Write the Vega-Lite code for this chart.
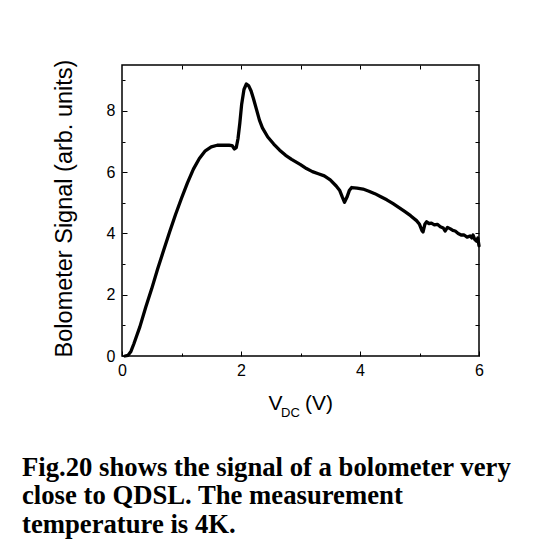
{
 "$schema": "https://vega.github.io/schema/vega-lite/v6.json",
 "width": 357,
 "height": 291,
 "autosize": {"type": "none"},
 "padding": {"left": 122, "top": 65, "right": 81, "bottom": 187},
 "background": "white",
 "config": {
  "view": {"stroke": "black", "strokeWidth": 1.5},
  "axis": {"domain": false, "grid": false, "tickColor": "black", "tickWidth": 1, "labelColor": "black", "titleColor": "black", "labelFont": "Liberation Sans", "titleFont": "Liberation Sans", "labelFontSize": 16, "titleFontWeight": "normal"}
 },
 "title": {
  "text": ["Fig.20 shows the signal of a bolometer very", "close to QDSL. The measurement", "temperature is 4K."],
  "orient": "bottom", "anchor": "start", "frame": "group", "dx": -100, "offset": 35,
  "font": "Liberation Serif", "fontSize": 26.7, "fontWeight": "bold", "color": "black", "lineHeight": 28.5
 },
 "data": {"values": [
  {"v":0.05,"s":0.0},{"v":0.1,"s":0.02},{"v":0.15,"s":0.15},{"v":0.2,"s":0.4},{"v":0.25,"s":0.68},{"v":0.3,"s":0.95},{"v":0.4,"s":1.6},{"v":0.5,"s":2.2},{"v":0.6,"s":2.85},{"v":0.7,"s":3.45},{"v":0.8,"s":4.05},{"v":0.9,"s":4.62},{"v":1.0,"s":5.15},{"v":1.1,"s":5.65},{"v":1.2,"s":6.1},{"v":1.3,"s":6.45},{"v":1.4,"s":6.7},{"v":1.5,"s":6.83},{"v":1.6,"s":6.88},{"v":1.7,"s":6.88},{"v":1.8,"s":6.88},{"v":1.85,"s":6.87},{"v":1.89,"s":6.76},{"v":1.92,"s":6.8},{"v":1.95,"s":7.1},{"v":1.98,"s":7.6},{"v":2.01,"s":8.2},{"v":2.05,"s":8.7},{"v":2.09,"s":8.88},{"v":2.13,"s":8.82},{"v":2.17,"s":8.65},{"v":2.21,"s":8.4},{"v":2.26,"s":8.05},{"v":2.31,"s":7.7},{"v":2.36,"s":7.45},{"v":2.45,"s":7.15},{"v":2.55,"s":6.92},{"v":2.65,"s":6.72},{"v":2.75,"s":6.55},{"v":2.85,"s":6.42},{"v":3.0,"s":6.25},{"v":3.1,"s":6.12},{"v":3.2,"s":6.02},{"v":3.3,"s":5.95},{"v":3.4,"s":5.88},{"v":3.5,"s":5.75},{"v":3.6,"s":5.55},{"v":3.66,"s":5.4},{"v":3.7,"s":5.2},{"v":3.74,"s":5.02},{"v":3.78,"s":5.18},{"v":3.82,"s":5.4},{"v":3.86,"s":5.5},{"v":3.95,"s":5.48},{"v":4.05,"s":5.45},{"v":4.15,"s":5.38},{"v":4.25,"s":5.3},{"v":4.35,"s":5.2},{"v":4.45,"s":5.1},{"v":4.55,"s":4.98},{"v":4.65,"s":4.85},{"v":4.75,"s":4.72},{"v":4.85,"s":4.58},{"v":4.95,"s":4.42},{"v":5.0,"s":4.3},{"v":5.04,"s":4.1},{"v":5.06,"s":4.05},{"v":5.09,"s":4.3},{"v":5.12,"s":4.38},{"v":5.16,"s":4.32},{"v":5.2,"s":4.34},{"v":5.25,"s":4.28},{"v":5.3,"s":4.3},{"v":5.35,"s":4.22},{"v":5.4,"s":4.18},{"v":5.43,"s":4.08},{"v":5.47,"s":4.2},{"v":5.52,"s":4.15},{"v":5.56,"s":4.1},{"v":5.6,"s":4.08},{"v":5.65,"s":4.0},{"v":5.7,"s":3.95},{"v":5.75,"s":3.95},{"v":5.8,"s":3.88},{"v":5.85,"s":3.92},{"v":5.88,"s":3.85},{"v":5.9,"s":3.95},{"v":5.93,"s":3.8},{"v":5.96,"s":3.75},{"v":5.98,"s":3.85},{"v":6.0,"s":3.6}
 ]},
 "layer": [
  {
   "mark": {"type": "line", "color": "black", "strokeWidth": 3.3, "strokeJoin": "round", "strokeCap": "round"},
   "encoding": {
    "x": {"field": "v", "type": "quantitative", "scale": {"domain": [0, 6], "nice": false},
      "axis": {"orient": "bottom", "values": [0, 2, 4, 6], "tickSize": -5, "labelPadding": 11, "labelFlush": false, "labelAngle": 0, "title": "V", "titleFontSize": 21, "titleX": 153, "titleY": 53, "titleBaseline": "alphabetic", "titleAlign": "center"}},
    "y": {"field": "s", "type": "quantitative", "scale": {"domain": [0, 9.5], "nice": false},
      "axis": {"orient": "left", "values": [0, 2, 4, 6, 8], "tickSize": -5, "labelPadding": 12, "labelFlush": false, "labelAngle": 0, "labelAlign": "right", "labelBaseline": "middle", "title": "Bolometer Signal (arb. units)", "titleFontSize": 23.5, "titleX": -58, "titleY": 143, "titleAlign": "center", "titleBaseline": "middle", "titleAngle": -90}}
   }
  },
  {
   "mark": {"type": "line", "opacity": 0},
   "encoding": {
    "x": {"field": "v", "type": "quantitative", "axis": {"orient": "bottom", "values": [1, 3, 5], "tickSize": -3, "labels": false, "title": "DC", "titleFontSize": 13, "titleX": 168, "titleY": 60.5, "titleBaseline": "alphabetic", "titleAlign": "center"}},
    "y": {"field": "s", "type": "quantitative", "axis": {"orient": "left", "values": [1, 3, 5, 7, 9], "tickSize": -3, "labels": false, "title": null}}
   }
  },
  {
   "mark": {"type": "line", "opacity": 0},
   "encoding": {
    "x": {"field": "v", "type": "quantitative", "axis": {"orient": "top", "values": [1, 2, 3, 4, 5], "tickSize": -4, "labels": false, "title": null}},
    "y": {"field": "s", "type": "quantitative", "axis": {"orient": "right", "values": [1, 2, 3, 4, 5, 6, 7, 8, 9], "tickSize": -4, "labels": false, "title": null}}
   }
  },
  {
   "mark": {"type": "line", "opacity": 0},
   "encoding": {
    "x": {"field": "v", "type": "quantitative", "axis": {"orient": "bottom", "ticks": false, "labels": false, "title": "(V)", "titleFontSize": 21, "titleX": 196.5, "titleY": 53, "titleBaseline": "alphabetic", "titleAlign": "center"}},
    "y": {"field": "s", "type": "quantitative", "axis": null}
   }
  }
 ],
 "resolve": {"axis": {"x": "independent", "y": "independent"}}
}
